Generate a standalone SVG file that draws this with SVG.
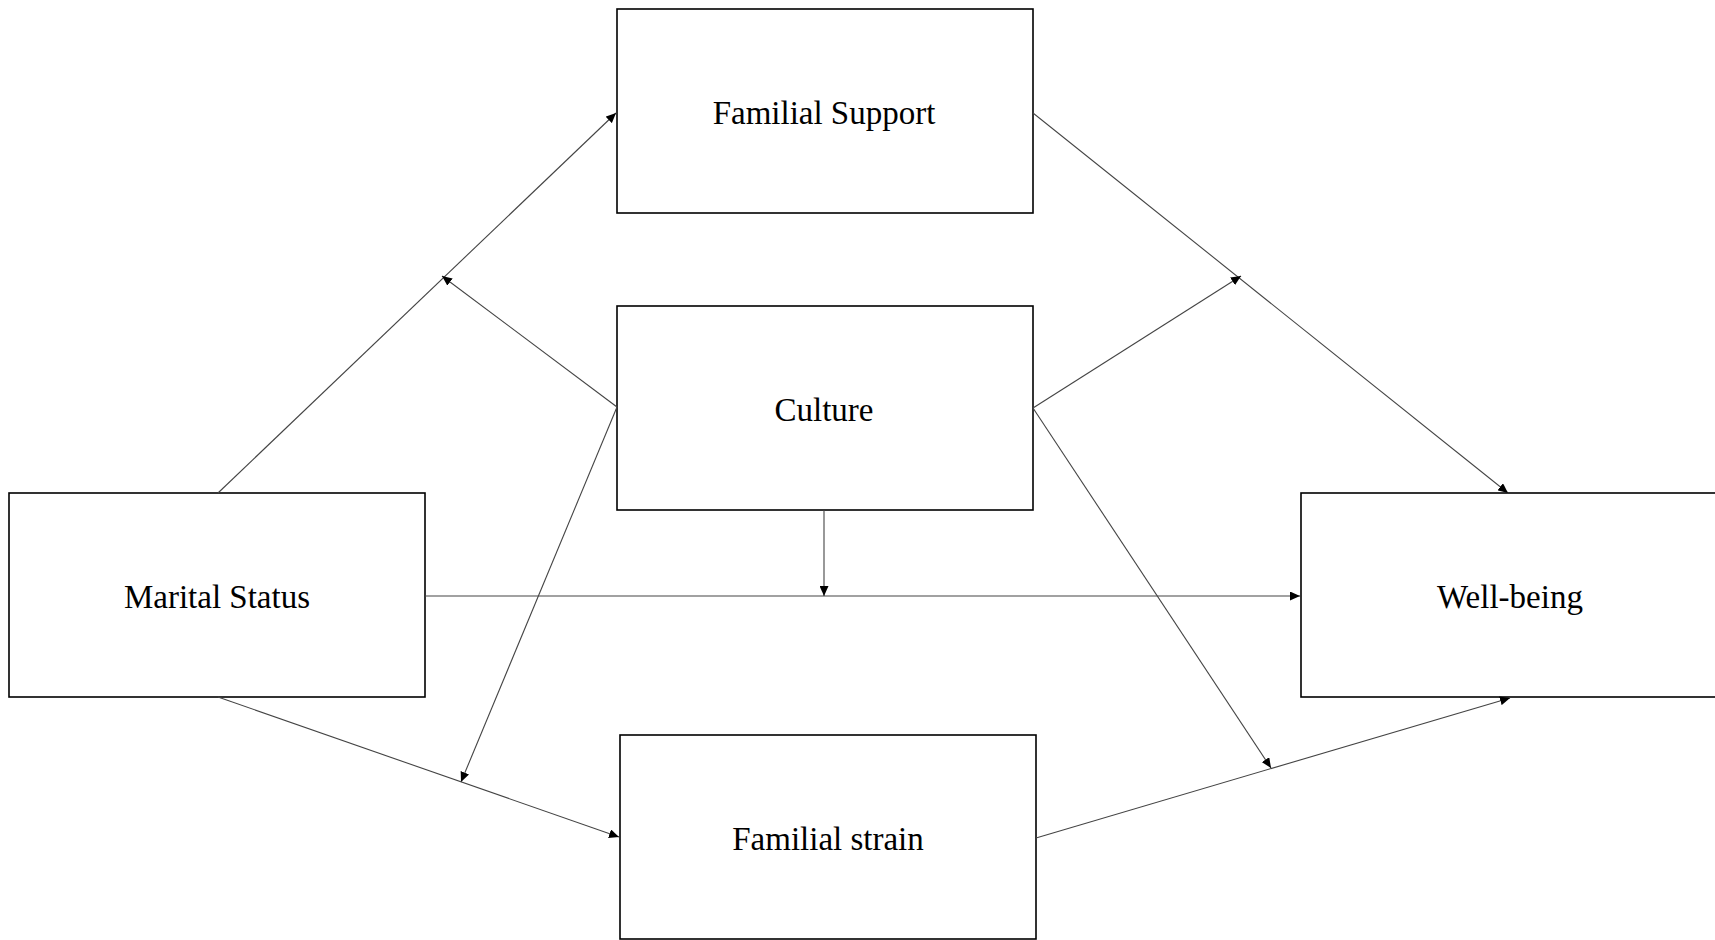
<svg xmlns="http://www.w3.org/2000/svg" width="1715" height="940" viewBox="0 0 1715 940">
  <style>
    .box { fill: #fff; stroke: #000; stroke-width: 1.6; }
    .lbl { font-family: "Liberation Serif", "Times New Roman", serif; font-size: 33px; fill: #000; text-anchor: middle; }
    .edge { stroke: #444; stroke-width: 1.1; fill: none; marker-end: url(#arrow); }
  </style>
  <defs>
    <marker id="arrow" markerUnits="userSpaceOnUse" markerWidth="11" markerHeight="9" refX="10" refY="4.5" orient="auto">
      <path d="M0,0 L10,4.5 L0,9 z" fill="#000"/>
    </marker>
  </defs>

  <!-- nodes -->
  <g id="familial-support">
    <rect class="box" x="617" y="9" width="416" height="204"/>
    <text class="lbl" x="824" y="124">Familial Support</text>
  </g>
  <g id="culture">
    <rect class="box" x="617" y="306" width="416" height="204"/>
    <text class="lbl" x="824" y="421">Culture</text>
  </g>
  <g id="marital-status">
    <rect class="box" x="9" y="493" width="416" height="204"/>
    <text class="lbl" x="217" y="608">Marital Status</text>
  </g>
  <g id="well-being">
    <rect class="box" x="1301" y="493" width="430" height="204"/>
    <text class="lbl" x="1510" y="608">Well-being</text>
  </g>
  <g id="familial-strain">
    <rect class="box" x="620" y="735" width="416" height="204"/>
    <text class="lbl" x="828" y="850">Familial strain</text>
  </g>

  <!-- connectors -->
  <g id="connectors">
    <line class="edge" x1="218" y1="493" x2="616" y2="113"/>
    <line class="edge" x1="617" y1="407" x2="442" y2="276"/>
    <line class="edge" x1="617" y1="407" x2="461" y2="782"/>
    <line class="edge" x1="218" y1="697" x2="619" y2="837"/>
    <line class="edge" x1="425" y1="596" x2="1300" y2="596"/>
    <line class="edge" x1="824" y1="510" x2="824" y2="596"/>
    <line class="edge" x1="1033" y1="113" x2="1508" y2="493"/>
    <line class="edge" x1="1033" y1="408" x2="1241" y2="276"/>
    <line class="edge" x1="1033" y1="408" x2="1271" y2="768"/>
    <line class="edge" x1="1036" y1="838" x2="1510" y2="698"/>
  </g>
</svg>
